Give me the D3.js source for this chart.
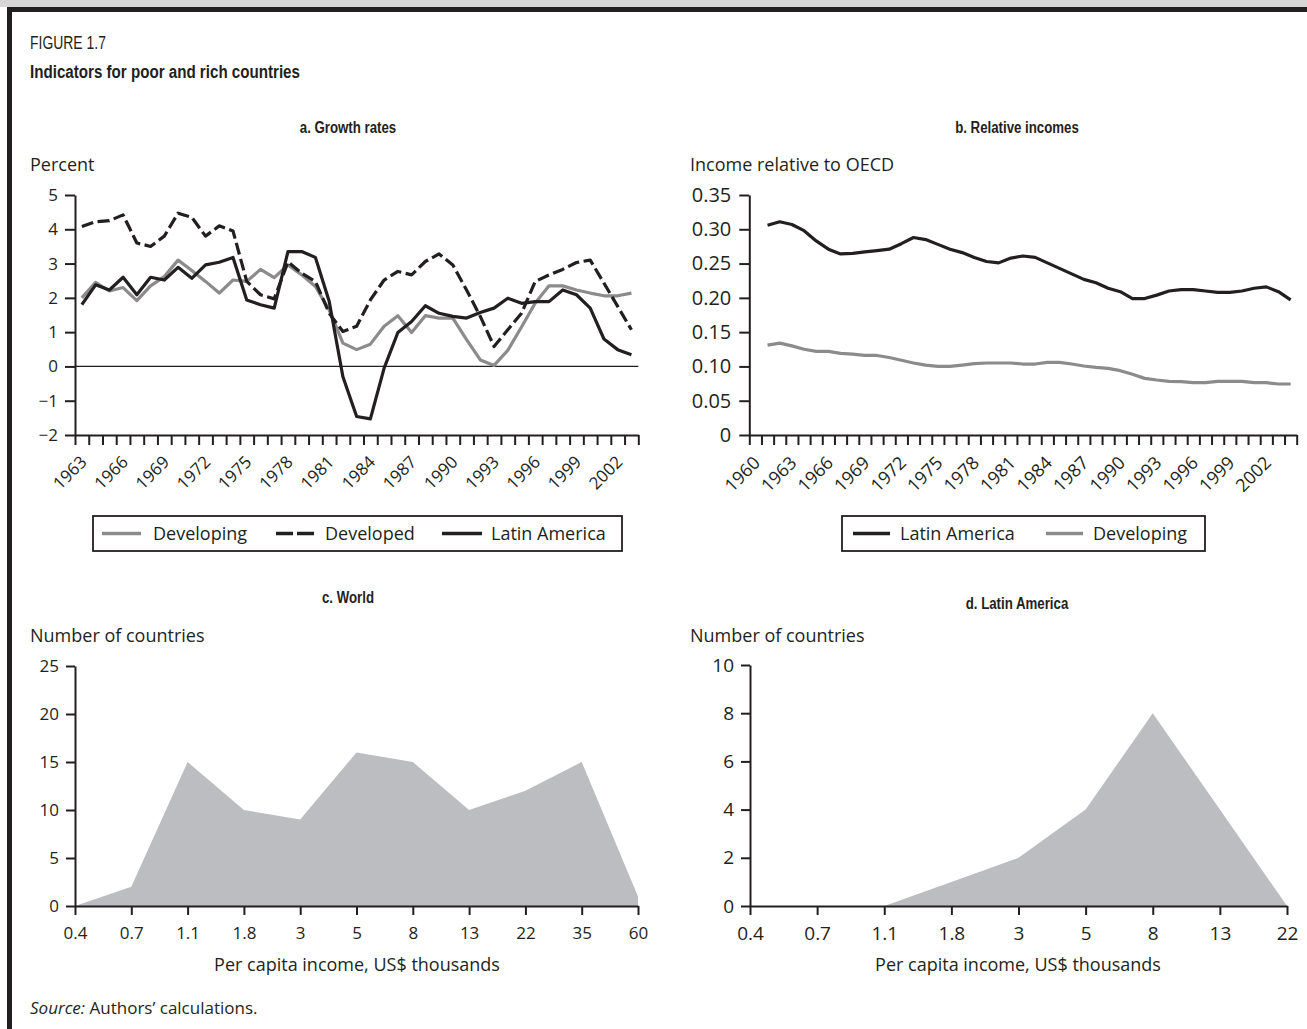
<!DOCTYPE html>
<html>
<head>
<meta charset="utf-8">
<script src="https://cdn.jsdelivr.net/npm/d3@7"></script>
<style>
  html, body { margin: 0; padding: 0; background: #fff; }
  svg { display: block; }
  .narrow { font-family: "Liberation Sans", Arial, sans-serif; }
  .body { font-family: "Open Sans", "Noto Sans", sans-serif; fill: #231f20; }
</style>
</head>
<body>
<svg id="fig" width="1307" height="1029"></svg>
<script>
// ---- data -------------------------------------------------------------
// a. Growth rates (percent), 1963–2003
const growthYears = d3.range(1963, 2004);
const developingGrowth = [2.0, 2.45, 2.2, 2.3, 1.92, 2.35, 2.62, 3.1, 2.8, 2.48,
  2.14, 2.52, 2.48, 2.83, 2.59, 2.96, 2.67, 2.33, 1.65, 0.68,
  0.49, 0.65, 1.17, 1.48, 0.99, 1.48, 1.41, 1.41, 0.78, 0.19,
  0.03, 0.47, 1.15, 1.85, 2.35, 2.35, 2.23, 2.14, 2.06, 2.06, 2.14];
const developedGrowth = [4.08, 4.22, 4.25, 4.42, 3.6, 3.5, 3.8, 4.47, 4.35, 3.8,
  4.1, 3.95, 2.48, 2.09, 1.97, 3.05, 2.72, 2.48, 1.55, 1.02,
  1.17, 1.94, 2.52, 2.77, 2.67, 3.06, 3.28, 2.96, 2.23, 1.46,
  0.58, 1.07, 1.55, 2.48, 2.67, 2.83, 3.03, 3.1, 2.43, 1.75, 1.07];
const latinGrowth = [1.8, 2.38, 2.23, 2.6, 2.09, 2.6, 2.52, 2.89, 2.57, 2.96,
  3.04, 3.18, 1.94, 1.8, 1.7, 3.35, 3.35, 3.18, 1.9, -0.3,
  -1.46, -1.53, -0.05, 0.99, 1.31, 1.77, 1.55, 1.46, 1.41, 1.57,
  1.7, 1.99, 1.84, 1.89, 1.89, 2.23, 2.09, 1.7, 0.8, 0.49, 0.34];
const growthTicks = [-2, -1, 0, 1, 2, 3, 4, 5];

// b. Income relative to OECD, axis 1960–2004, data 1961–2004
const incomeAxisYears = d3.range(1960, 2005);
const incomeYears = d3.range(1961, 2005);
const latinRelative = [0.306, 0.311, 0.307, 0.298, 0.283, 0.271, 0.264, 0.265, 0.267, 0.269,
  0.271, 0.279, 0.288, 0.285, 0.278, 0.271, 0.266, 0.259, 0.253, 0.251,
  0.258, 0.261, 0.259, 0.251, 0.243, 0.235, 0.227, 0.222, 0.214, 0.209,
  0.199, 0.199, 0.204, 0.210, 0.212, 0.212, 0.210, 0.208, 0.208, 0.210,
  0.214, 0.216, 0.209, 0.197];
const developingRelative = [0.131, 0.134, 0.130, 0.125, 0.122, 0.122, 0.119, 0.118, 0.116, 0.116,
  0.113, 0.109, 0.105, 0.102, 0.100, 0.100, 0.102, 0.104, 0.105, 0.105,
  0.105, 0.1035, 0.1035, 0.106, 0.106, 0.1035, 0.1006, 0.0987, 0.0972, 0.0938,
  0.0885, 0.0826, 0.0802, 0.0782, 0.0778, 0.0763, 0.0763, 0.0782, 0.0782, 0.0782,
  0.0763, 0.0763, 0.0744, 0.0744];
const relativeTicks = [0, 0.05, 0.10, 0.15, 0.20, 0.25, 0.30, 0.35];

// c. World: number of countries by per capita income (US$ thousands)
const worldIncome = ["0.4", "0.7", "1.1", "1.8", "3", "5", "8", "13", "22", "35", "60"];
const worldCount = [0, 2, 15, 10, 9, 16, 15, 10, 12, 15, 1];
const worldTicks = [0, 5, 10, 15, 20, 25];

// d. Latin America
const latinIncome = ["0.4", "0.7", "1.1", "1.8", "3", "5", "8", "13", "22"];
const latinCount = [0, 0, 0, 1, 2, 4, 8, 4, 0];
const latinTicks = [0, 2, 4, 6, 8, 10];

// ---- drawing ----------------------------------------------------------
const INK = "#231f20";
const GREY = "#8b8b8b";
const FILL = "#bcbdc0";

const svg = d3.select("#fig");

// frame
svg.append("rect").attr("x", 0).attr("y", 0).attr("width", 1307).attr("height", 7).attr("fill", "#d6d6d6");
svg.append("rect").attr("x", 7).attr("y", 7).attr("width", 1300).attr("height", 5).attr("fill", INK);
svg.append("rect").attr("x", 7).attr("y", 7).attr("width", 5).attr("height", 1022).attr("fill", INK);

// condensed heading text: a sans face squeezed horizontally
function narrowText(x, y, s, size, weight, anchor, squeeze) {
  return svg.append("text").attr("class", "narrow")
    .attr("transform", `translate(${x},${y}) scale(${squeeze},1)`)
    .attr("font-size", size).attr("font-weight", weight)
    .attr("text-anchor", anchor).attr("fill", INK).text(s);
}
narrowText(30, 49, "FIGURE 1.7", 18, "normal", "start", 0.775);
narrowText(30, 78, "Indicators for poor and rich countries", 19, "bold", "start", 0.797);

function panelTitle(x, y, s) { narrowText(x, y, s, 17, "bold", "middle", 0.78); }
function bodyText(x, y, s, size, anchor) {
  return svg.append("text").attr("class", "body").attr("x", x).attr("y", y)
    .attr("font-size", size).attr("text-anchor", anchor || "start").text(s);
}
function styleAxis(g, size) {
  g.selectAll("path.domain").attr("stroke", INK).attr("stroke-width", 2);
  g.selectAll(".tick line").attr("stroke", INK).attr("stroke-width", 2);
  g.selectAll(".tick text").attr("font-family", "'Open Sans', 'Noto Sans', sans-serif")
    .attr("font-size", size).attr("fill", INK);
}

panelTitle(348, 133, "a. Growth rates");
panelTitle(1017, 133, "b. Relative incomes");
panelTitle(348, 603, "c. World");
panelTitle(1017, 609, "d. Latin America");

bodyText(30, 171, "Percent", 18);
bodyText(690, 171, "Income relative to OECD", 18);
bodyText(30, 642, "Number of countries", 18);
bodyText(690, 642, "Number of countries", 18);
bodyText(357, 971, "Per capita income, US$ thousands", 18, "middle");
bodyText(1018, 971, "Per capita income, US$ thousands", 18, "middle");
const src = bodyText(30, 1014, "", 17);
src.append("tspan").attr("font-style", "italic").text("Source:");
src.append("tspan").text(" Authors\u2019 calculations.");

// ---- panel a: growth rates ----
{
  const x0 = 75, x1 = 638.3, yTop = 195, yBot = 435;
  const xb = d3.scaleBand().domain(growthYears).range([x0, x1]).padding(0);
  const xc = d => xb(d) + xb.bandwidth() / 2;
  const y = d3.scaleLinear().domain([-2, 5]).range([yBot, yTop]);

  // zero reference line
  svg.append("line").attr("x1", x0).attr("x2", x1).attr("y1", y(0)).attr("y2", y(0))
    .attr("stroke", INK).attr("stroke-width", 1.2);

  const line = d3.line().x((d, i) => xc(growthYears[i])).y(d => y(d));
  svg.append("path").datum(developingGrowth).attr("d", line).attr("fill", "none")
    .attr("stroke", GREY).attr("stroke-width", 3.2).attr("stroke-linejoin", "round");
  svg.append("path").datum(developedGrowth).attr("d", line).attr("fill", "none")
    .attr("stroke", INK).attr("stroke-width", 3.2).attr("stroke-dasharray", "12,4.5")
    .attr("stroke-linejoin", "round");
  svg.append("path").datum(latinGrowth).attr("d", line).attr("fill", "none")
    .attr("stroke", INK).attr("stroke-width", 3.2).attr("stroke-linejoin", "round");

  const gy = svg.append("g").attr("transform", `translate(${x0},0)`)
    .call(d3.axisLeft(y).tickValues(growthTicks).tickSize(10).tickPadding(7).tickSizeOuter(0)
      .tickFormat(d3.format("d")));
  styleAxis(gy, 17);

  // ticks on category boundaries
  const xi = d3.scaleLinear().domain([0, growthYears.length]).range([x0, x1]);
  const gx = svg.append("g").attr("transform", `translate(0,${yBot})`)
    .call(d3.axisBottom(xi).tickValues(d3.range(growthYears.length + 1)).tickSize(10)
      .tickSizeOuter(0).tickFormat(""));
  styleAxis(gx, 17);

  svg.append("g").selectAll("text").data(growthYears.filter((d, i) => i % 3 === 0)).join("text")
    .attr("class", "body").attr("font-size", 17).attr("text-anchor", "end")
    .attr("transform", d => `translate(${xc(d) + 6},${yBot + 28}) rotate(-45)`)
    .text(d => d);

  // legend
  const lg = svg.append("g");
  lg.append("rect").attr("x", 93).attr("y", 516).attr("width", 529).attr("height", 35)
    .attr("fill", "none").attr("stroke", INK).attr("stroke-width", 1.8);
  const items = [
    { x: 102, w: 39, stroke: GREY, dash: null, label: "Developing", tx: 153 },
    { x: 276, w: 38, stroke: INK, dash: "17,4", label: "Developed", tx: 325 },
    { x: 442, w: 40, stroke: INK, dash: null, label: "Latin America", tx: 491 }
  ];
  items.forEach(it => {
    lg.append("line").attr("x1", it.x).attr("x2", it.x + it.w).attr("y1", 533.5).attr("y2", 533.5)
      .attr("stroke", it.stroke).attr("stroke-width", 3.6).attr("stroke-dasharray", it.dash);
    lg.append("text").attr("class", "body").attr("x", it.tx).attr("y", 540)
      .attr("font-size", 18).text(it.label);
  });
}

// ---- panel b: relative incomes ----
{
  const x0 = 749.3, x1 = 1296.7, yTop = 195, yBot = 435;
  const xb = d3.scaleBand().domain(incomeAxisYears).range([x0, x1]).padding(0);
  const xc = d => xb(d) + xb.bandwidth() / 2;
  const y = d3.scaleLinear().domain([0, 0.35]).range([yBot, yTop]);

  const line = d3.line().x((d, i) => xc(incomeYears[i])).y(d => y(d));
  svg.append("path").datum(latinRelative).attr("d", line).attr("fill", "none")
    .attr("stroke", INK).attr("stroke-width", 3.2).attr("stroke-linejoin", "round");
  svg.append("path").datum(developingRelative).attr("d", line).attr("fill", "none")
    .attr("stroke", GREY).attr("stroke-width", 3.2).attr("stroke-linejoin", "round");

  const gy = svg.append("g").attr("transform", `translate(${x0},0)`)
    .call(d3.axisLeft(y).tickValues(relativeTicks).tickSize(10).tickPadding(8).tickSizeOuter(0)
      .tickFormat(d => d === 0 ? "0" : d3.format(".2f")(d)));
  styleAxis(gy, 20);

  const xi = d3.scaleLinear().domain([0, incomeAxisYears.length]).range([x0, x1]);
  const gx = svg.append("g").attr("transform", `translate(0,${yBot})`)
    .call(d3.axisBottom(xi).tickValues(d3.range(incomeAxisYears.length + 1)).tickSize(10)
      .tickSizeOuter(0).tickFormat(""));
  styleAxis(gx, 17);

  svg.append("g").selectAll("text").data(incomeAxisYears.filter((d, i) => i % 3 === 0)).join("text")
    .attr("class", "body").attr("font-size", 18).attr("text-anchor", "end")
    .attr("transform", d => `translate(${xc(d) + 6},${yBot + 29}) rotate(-45)`)
    .text(d => d);

  const lg = svg.append("g");
  lg.append("rect").attr("x", 842).attr("y", 516).attr("width", 363).attr("height", 35)
    .attr("fill", "none").attr("stroke", INK).attr("stroke-width", 1.8);
  const items = [
    { x: 853, w: 37, stroke: INK, label: "Latin America", tx: 900 },
    { x: 1046, w: 37, stroke: GREY, label: "Developing", tx: 1093 }
  ];
  items.forEach(it => {
    lg.append("line").attr("x1", it.x).attr("x2", it.x + it.w).attr("y1", 533.5).attr("y2", 533.5)
      .attr("stroke", it.stroke).attr("stroke-width", 3.6);
    lg.append("text").attr("class", "body").attr("x", it.tx).attr("y", 540)
      .attr("font-size", 18).text(it.label);
  });
}

// ---- panels c and d: distributions ----
function distribution(cats, counts, ticks, x0, x1, yTop, yBot, fontSize) {
  const x = d3.scalePoint().domain(cats).range([x0, x1]);
  const y = d3.scaleLinear().domain([0, d3.max(ticks)]).range([yBot, yTop]);
  const area = d3.area().x((d, i) => x(cats[i])).y0(yBot).y1(d => y(d));
  svg.append("path").datum(counts).attr("d", area).attr("fill", FILL);

  const gy = svg.append("g").attr("transform", `translate(${x0},0)`)
    .call(d3.axisLeft(y).tickValues(ticks).tickSize(9).tickPadding(7).tickSizeOuter(0));
  styleAxis(gy, fontSize);
  const gx = svg.append("g").attr("transform", `translate(0,${yBot})`)
    .call(d3.axisBottom(x).tickSize(9).tickPadding(12).tickSizeOuter(0));
  styleAxis(gx, fontSize);
}
distribution(worldIncome, worldCount, worldTicks, 75, 638, 666, 906, 17);
distribution(latinIncome, latinCount, latinTicks, 750, 1287, 665, 906, 19);
</script>
</body>
</html>
